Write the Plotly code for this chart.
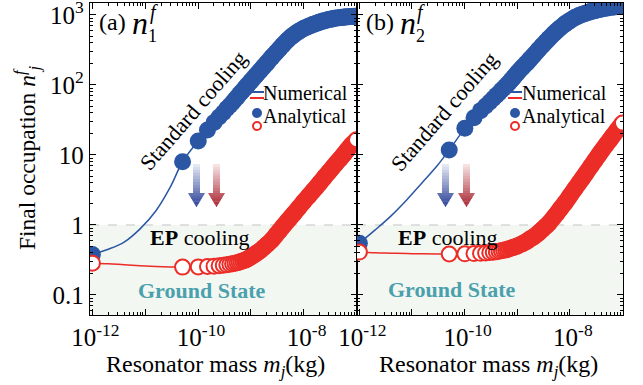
import plotly.graph_objects as go

# ---------------- data ----------------
# numerical curves (thin lines)
mass_line = [1e-12, 2e-12, 4e-12, 8e-12, 1.6e-11, 3e-11, 5.1e-11, 1.01e-10, 1.51e-10,
             3.01e-10, 6.01e-10, 1.0e-9, 2.0e-9, 4.0e-9, 8.0e-9, 1.5e-8, 3.0e-8, 6.0e-8, 1.0e-7]
num_blue_a = [0.38, 0.45, 0.57, 0.88, 1.6, 3.5, 8.0, 15.8, 22.8, 40, 73, 113, 205, 370, 580, 730, 860, 935, 960]
num_red_a = [0.285, 0.28, 0.27, 0.262, 0.256, 0.252, 0.25, 0.252, 0.255, 0.266, 0.294, 0.35, 0.52, 0.94, 1.75, 3.05, 5.7, 10.6, 16.5]
num_blue_b = [0.55, 0.85, 1.35, 2.3, 4.1, 7.0, 11.8, 24, 34, 57, 96, 148, 260, 460, 740, 980, 1160, 1290, 1350]
num_red_b = [0.41, 0.40, 0.395, 0.39, 0.387, 0.385, 0.385, 0.387, 0.39, 0.403, 0.441, 0.5, 0.67, 1.06, 2.05, 4.0, 8.4, 17.3, 28.6]

# analytical points
mass_pts = [1e-12, 5.1e-11, 1.01e-10, 1.51e-10, 2.01e-10, 2.51e-10, 3.01e-10, 3.51e-10, 4.01e-10,
            4.51e-10, 5.01e-10, 5.51e-10, 6.01e-10, 6.51e-10, 7.01e-10, 7.51e-10, 8.5e-10, 1.0e-9,
            1.25e-9, 1.5e-9, 1.75e-9, 2.0e-9, 2.5e-9, 3.0e-9, 3.5e-9, 4.0e-9, 5.0e-9, 5.75e-9,
            6.5e-9, 8.0e-9, 1.0e-8, 1.25e-8, 1.5e-8, 1.75e-8, 2.0e-8, 2.5e-8, 3.0e-8, 3.5e-8,
            4.0e-8, 5.0e-8, 5.75e-8, 6.5e-8, 8.0e-8, 1.0e-7]
ana_blue_a = [0.38, 8.0, 15.8, 22.8, 29, 35, 40, 46, 51, 56, 62, 67, 73, 78, 83, 88, 98, 113,
              137, 160, 183, 205, 250, 290, 330, 370, 440, 485, 520, 580, 640, 690, 730, 760,
              790, 830, 860, 880, 900, 920, 930, 940, 950, 960]
ana_red_a = [0.285, 0.25, 0.252, 0.255, 0.258, 0.262, 0.266, 0.27, 0.274, 0.279, 0.284, 0.289,
             0.294, 0.3, 0.305, 0.31, 0.325, 0.35, 0.39, 0.43, 0.475, 0.52, 0.61, 0.72, 0.83,
             0.94, 1.15, 1.3, 1.45, 1.75, 2.15, 2.6, 3.05, 3.5, 3.95, 4.85, 5.7, 6.55, 7.4, 9.0,
             10.2, 11.5, 13.9, 16.5]
ana_blue_b = [0.55, 11.8, 24, 34, 43, 50, 57, 64, 71, 77, 84, 90, 96, 102, 108, 115, 128, 148,
              178, 205, 233, 260, 315, 365, 415, 460, 545, 600, 650, 740, 830, 920, 980, 1025,
              1060, 1120, 1160, 1195, 1220, 1260, 1285, 1300, 1330, 1350]
ana_red_b = [0.41, 0.385, 0.387, 0.39, 0.394, 0.398, 0.403, 0.408, 0.414, 0.42, 0.427, 0.434,
             0.441, 0.448, 0.456, 0.464, 0.48, 0.5, 0.54, 0.58, 0.63, 0.67, 0.76, 0.86, 0.96,
             1.06, 1.3, 1.48, 1.68, 2.05, 2.6, 3.3, 4.0, 4.7, 5.4, 6.9, 8.4, 9.9, 11.4, 14.3,
             16.4, 18.6, 22.9, 28.6]

x_tick_vals = [1e-12, 1e-11, 1e-10, 1e-9, 1e-8, 1e-7]
x_tick_text = ['10<sup>-12</sup>', '', '10<sup>-10</sup>', '', '10<sup>-8</sup>', '']
y_tick_vals = [0.1, 1, 10, 100, 1000]
y_tick_text = ['0.1', '1', '10', '10<sup>2</sup>', '10<sup>3</sup>']

# ---------------- style ----------------
W, H = 643, 385
ML, MR, MT, MB = 90, 20, 3, 70
PW, PH = W - ML - MR, H - MT - MB
X_RANGE = [-12.045, -6.99]
Y_RANGE = [-1.286, 3.171]
BLUE = '#2a56a4'
RED = '#ec2d27'
TEAL = '#4aa0ad'
FONT = 'Liberation Serif'
DENSE = 15  # points from here on merge into a continuous band
MS_B, MS_R = 17, 15


def px(x):
    return (x - ML) / PW


def py(y):
    return (H - MB - y) / PH


fig = go.Figure()

panels = [
    ('x', 'y', num_blue_a, num_red_a, ana_blue_a, ana_red_a),
    ('x2', 'y2', num_blue_b, num_red_b, ana_blue_b, ana_red_b),
]
n_pts = len(mass_pts)
red_fill = ['white' if (i < DENSE or i == n_pts - 1) else RED for i in range(n_pts)]

for xa, ya, nb, nr, ab, ar in panels:
    fig.add_trace(go.Scatter(x=mass_line, y=nb, mode='lines', line=dict(color=BLUE, width=1.5, shape='spline'),
                             xaxis=xa, yaxis=ya))
    fig.add_trace(go.Scatter(x=mass_line, y=nr, mode='lines', line=dict(color=RED, width=1.5, shape='spline'),
                             xaxis=xa, yaxis=ya))
    fig.add_trace(go.Scatter(x=mass_pts[DENSE:], y=ab[DENSE:], mode='lines',
                             line=dict(color=BLUE, width=MS_B, shape='spline'), xaxis=xa, yaxis=ya))
    fig.add_trace(go.Scatter(x=mass_pts, y=ab, mode='markers',
                             marker=dict(color=BLUE, size=MS_B, line=dict(width=0)), xaxis=xa, yaxis=ya))
    fig.add_trace(go.Scatter(x=mass_pts[DENSE:], y=ar[DENSE:], mode='lines',
                             line=dict(color=RED, width=MS_R + 2, shape='spline'), xaxis=xa, yaxis=ya))
    fig.add_trace(go.Scatter(x=mass_pts, y=ar, mode='markers',
                             marker=dict(color=red_fill, size=MS_R, line=dict(color=RED, width=2)),
                             xaxis=xa, yaxis=ya))

x_minor = [d * 10.0 ** e for e in range(-13, -6) for d in range(2, 10)]
y_minor = [d * 10.0 ** e for e in range(-2, 4) for d in range(2, 10)]

axis_common = dict(type='log', showline=True, linecolor='black', linewidth=1.3, mirror='allticks',
                   ticks='inside', ticklen=6, tickwidth=1, tickcolor='black', showgrid=False,
                   zeroline=False, automargin=False, ticklabeloverflow='allow',
                   tickfont=dict(family=FONT, size=25, color='black'))
xa_common = dict(axis_common, range=X_RANGE, tickmode='array', tickvals=x_tick_vals, ticktext=x_tick_text,
                 ticklabelshift=3,
                 minor=dict(tickmode='array', tickvals=x_minor, ticks='inside', ticklen=3,
                            tickcolor='black', tickwidth=1, showgrid=False))
ya_common = dict(axis_common, range=Y_RANGE, tickmode='array', tickvals=y_tick_vals, ticktext=y_tick_text,
                 minor=dict(tickmode='array', tickvals=y_minor, ticks='inside', ticklen=3,
                            tickcolor='black', tickwidth=1, showgrid=False))
split = 267 / PW
fig.update_layout(
    xaxis=dict(xa_common, domain=[0, split], anchor='y'),
    xaxis2=dict(xa_common, domain=[split, 1], anchor='y2'),
    yaxis=dict(ya_common, domain=[0, 1], anchor='x'),
    yaxis2=dict(ya_common, domain=[0, 1], anchor='x2', showticklabels=False),
)

# ground-state shading and y=1 dashed line
f1 = (0 - Y_RANGE[0]) / (Y_RANGE[1] - Y_RANGE[0])
shapes = []
for xd, yd in [('x domain', 'y domain'), ('x2 domain', 'y2 domain')]:
    shapes.append(dict(type='rect', xref=xd, yref=yd, x0=0, x1=1, y0=0, y1=f1,
                       fillcolor='#f2f7f2', line=dict(width=0), layer='below'))
    shapes.append(dict(type='line', xref=xd, yref=yd, x0=0, x1=1, y0=f1, y1=f1,
                       line=dict(color='#c4c4c4', width=1, dash='dash'), layer='below'))


def mix(c0, c1, t):
    return 'rgb(%d,%d,%d)' % tuple(round(a + (b - a) * t) for a, b in zip(c0, c1))


def arrow(cx, top, head_y, tip, sw, hw, c0, c1, n_shaft=10, n_head=5):
    total = tip - top
    out = []
    for i in range(n_shaft):
        y0 = top + (head_y - top) * i / n_shaft
        y1 = top + (head_y - top) * (i + 1) / n_shaft + 0.4
        t = ((y0 + y1) / 2 - top) / total
        pts = [(cx - sw / 2, y0), (cx + sw / 2, y0), (cx + sw / 2, y1), (cx - sw / 2, y1)]
        out.append((pts, mix(c0, c1, t)))
    for i in range(n_head):
        y0 = head_y + (tip - head_y) * i / n_head
        y1 = head_y + (tip - head_y) * (i + 1) / n_head
        w0 = hw * (tip - y0) / (tip - head_y)
        w1 = hw * (tip - y1) / (tip - head_y)
        t = ((y0 + y1) / 2 - top) / total
        pts = [(cx - w0 / 2, y0), (cx + w0 / 2, y0), (cx + w1 / 2, y1 + 0.3), (cx - w1 / 2, y1 + 0.3)]
        out.append((pts, mix(c0, c1, t)))
    res = []
    for pts, col in out:
        path = 'M ' + ' L '.join('%.5f,%.5f' % (px(a), py(b)) for a, b in pts) + ' Z'
        res.append(dict(type='path', xref='paper', yref='paper', path=path, fillcolor=col,
                        line=dict(width=0), layer='above'))
    return res


BL0, BL1 = (236, 239, 248), (40, 62, 150)
RD0, RD1 = (249, 234, 234), (168, 34, 46)
for cxb, cxr in [(196.5, 216.5), (445.5, 466.5)]:
    shapes += arrow(cxb, 164, 193, 207, 7, 17, BL0, BL1)
    shapes += arrow(cxr, 164, 193, 207, 7, 17, RD0, RD1)

# legend keys
for lx in [250, 508]:
    shapes.append(dict(type='line', xref='paper', yref='paper', x0=px(lx), x1=px(lx + 14),
                       y0=py(92), y1=py(92), line=dict(color=BLUE, width=2)))
    shapes.append(dict(type='line', xref='paper', yref='paper', x0=px(lx), x1=px(lx + 14),
                       y0=py(98), y1=py(98), line=dict(color=RED, width=2)))
    cx = lx + 7
    shapes.append(dict(type='circle', xref='paper', yref='paper', x0=px(cx - 5), x1=px(cx + 5),
                       y0=py(113 + 5), y1=py(113 - 5), fillcolor=BLUE, line=dict(width=0)))
    shapes.append(dict(type='circle', xref='paper', yref='paper', x0=px(cx - 4), x1=px(cx + 4),
                       y0=py(126 + 4), y1=py(126 - 4), fillcolor='white', line=dict(color=RED, width=2)))

fig.update_layout(shapes=shapes)

anns = []


def ann(text, x, y, size, color='black', angle=0, xanchor='center'):
    anns.append(dict(text=text, x=px(x), y=py(y), xref='paper', yref='paper', showarrow=False,
                     font=dict(family=FONT, size=size, color=color), textangle=angle,
                     xanchor=xanchor, yanchor='middle'))


for lab, sub, x0 in [('(a)', '1', 0), ('(b)', '2', 267.5)]:
    ann(lab, 112.5 + x0, 22, 24)
    ann('<i>n</i>', 140 + x0, 22.5, 32)
    ann('<i>f</i>', 153.5 + x0, 12, 20)
    ann(sub, 152.5 + x0, 36.5, 18)

ann('Standard cooling', 193, 110, 22, angle=-49)
ann('Standard cooling', 444, 111, 22, angle=-49)
ann('<b>EP</b> cooling', 200, 237, 22)
ann('<b>EP</b> cooling', 448, 237, 22)
ann('<b>Ground State</b>', 202, 290.5, 22, color=TEAL)
ann('<b>Ground State</b>', 452, 289.5, 22, color=TEAL)
for tx in [261, 520]:
    ann('Numerical', tx, 93.5, 20, xanchor='left')
    ann('Analytical', tx, 116, 20, xanchor='left')
ann('Resonator mass <i>m</i><sub><i>j</i></sub>(kg)', 215, 366, 24)
ann('Resonator mass <i>m</i><sub><i>j</i></sub>(kg)', 488, 366, 24)
ann('Final occupation <i>n</i><sup><i>f</i></sup><sub><i>j</i></sub>', 27, 158, 23.5, angle=-90)

fig.update_layout(annotations=anns, width=W, height=H,
                  margin=dict(l=ML, r=MR, t=MT, b=MB, autoexpand=False), plot_bgcolor='white',
                  paper_bgcolor='white', showlegend=False, font=dict(family=FONT, size=21, color='black'))

fig.write_html('out.html', config={'displayModeBar': False, 'staticPlot': True},
               post_script="document.body.style.margin='0';")
